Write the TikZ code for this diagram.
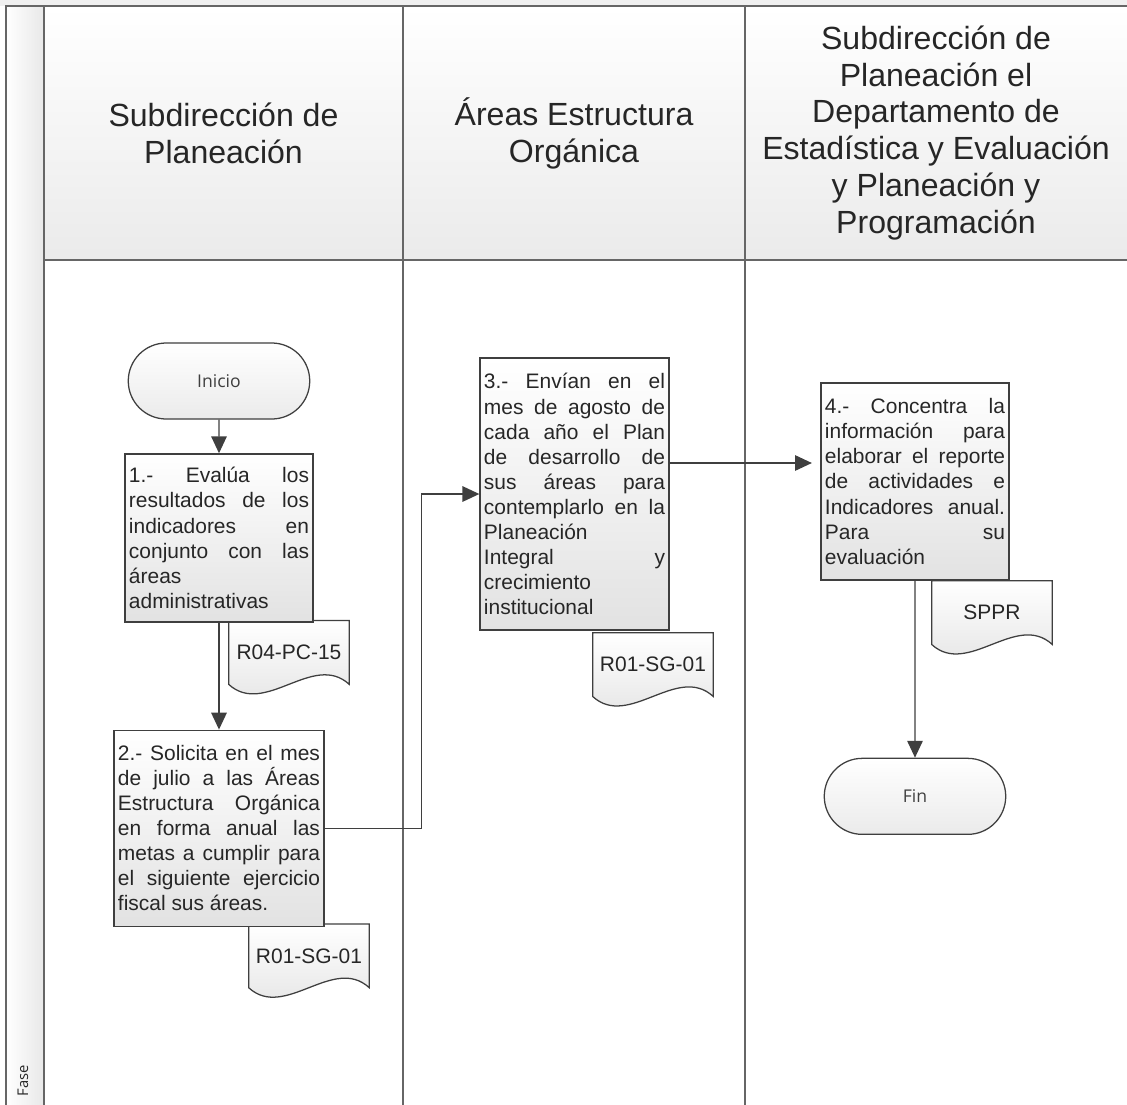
\documentclass[tikz,border=0pt]{standalone}
\usepackage{fontspec}
\setmainfont{Liberation Sans}
\newfontfamily\uifont{Open Sans}
\usepackage{tikz}
\usetikzlibrary{positioning,calc,shapes.misc,arrows.meta,backgrounds}
\definecolor{linecol}{HTML}{3F3F3F}
\definecolor{lanecol}{HTML}{666666}
\definecolor{txtcol}{HTML}{262626}
\definecolor{fillbot}{HTML}{E2E2E2}
\hyphenpenalty=10000
\exhyphenpenalty=10000
\tikzset{block/.style={draw=linecol,line width=0.9pt,top color=white,bottom color=fillbot,
           align=justify,inner xsep=0.1cm,inner ysep=0pt,text=txtcol,
           font=\fontsize{14.9pt}{17.8pt}\selectfont},
         term/.style={draw=linecol,line width=0.9pt,rounded rectangle,top color=white,
           bottom color=fillbot!70,minimum width=4.77cm,minimum height=1.9cm,text=linecol,
           font=\uifont\fontsize{12.5pt}{14pt}\selectfont},
         docu/.style={minimum width=3cm,minimum height=1.58cm,inner sep=0pt,text=txtcol,
           font=\fontsize{14.9pt}{17.8pt}\selectfont},
         head/.style={align=center,text=txtcol,font=\fontsize{22.8pt}{26.3pt}\selectfont},
         lane/.style={draw=lanecol,line width=1.4pt}
}
\tikzstyle{arrow} = [draw=linecol,line width=1pt,-{Triangle[length=12pt,width=11pt]}]

% document symbol: text node plus wavy outline behind it
\newcommand{\docshape}[3]{%
  \node[docu,anchor=north west] (#1) at (#2) {#3};
  \begin{pgfonlayer}{background}
  \draw[draw=linecol,line width=0.9pt,top color=white,bottom color=fillbot]
    (#1.north west) -- (#1.north east) -- (#1.south east)
    .. controls ($(#1.south east)+(-36,-33)$) and ($(#1.south west)+(36,33)$) .. (#1.south west) -- cycle;
  \end{pgfonlayer}}

\begin{document}
\begin{tikzpicture}[x=0.025cm,y=-0.025cm]
\useasboundingbox (0,0) rectangle (1127,1105);

% lanes
\fill[gray!12] (0,0) rectangle (1127,6);
\fill[left color=white,right color=gray!18] (6,6) rectangle (44,1105);
\fill[top color=white,bottom color=gray!16] (44,6) rectangle (1127,260);
\draw[lane] (6,1105) -- (6,6) -- (1127,6);
\draw[lane] (44,6) -- (44,1105);
\draw[lane] (44,260) -- (1127,260);
\draw[lane] (403,6) -- (403,1105);
\draw[lane] (745,6) -- (745,1105);

\node[head] (head1) at (223.5,133) {Subdirección de\\Planeación};
\node[head] (head2) at (574,133) {Áreas Estructura\\Orgánica};
\node[head] (head3) at (936,133) {Subdirección de\\Planeación el\\Departamento de\\Estadística y Evaluación\\y Planeación y\\Programación};
\node[rotate=90,text=txtcol,font=\uifont\fontsize{10.5pt}{12pt}\selectfont] (fase) at (23,1081) {Fase};

% steps
\node[term] (inicio) at (219,381) {Inicio};
\node[block,text width=4.5cm,minimum height=4.2cm,below=0.84cm of inicio] (box1) {1.- Evalúa los\linebreak resultados de los\linebreak indicadores en\linebreak conjunto con las\linebreak áreas\linebreak administrativas};
\node[block,text width=5.05cm,minimum height=4.9cm,below=2.675cm of box1] (box2) {2.- Solicita en el mes\linebreak de julio a las Áreas\linebreak Estructura Orgánica\linebreak en forma anual las\linebreak metas a cumplir para\linebreak el siguiente ejercicio\linebreak fiscal sus áreas.};
\node[block,text width=4.525cm,minimum height=6.8cm] (box3) at (574.5,494) {3.- Envían en el\linebreak mes de agosto de\linebreak cada año el Plan\linebreak de desarrollo de\linebreak sus áreas para\linebreak contemplarlo en la\linebreak Planeación\linebreak Integral y\linebreak crecimiento\linebreak institucional};
\node[block,text width=4.5cm,minimum height=4.925cm] (box4) at (915,481.5) {4.- Concentra la\linebreak información para\linebreak elaborar el reporte\linebreak de actividades e\linebreak Indicadores anual.\linebreak Para su\linebreak evaluación};
\node[term,below=4.425cm of box4] (fin) {Fin};

% documents
\docshape{doc1}{$(box1.south east)+(-85,-2)$}{R04-PC-15}
\docshape{doc2}{$(box2.south east)+(-76,-3)$}{R01-SG-01}
\docshape{doc3}{$(box3.south east)+(-77,2)$}{R01-SG-01}
\docshape{doc4}{$(box4.south east)+(-78,0)$}{SPPR}

% flow
\draw[arrow] (inicio) -- (box1);
\draw[arrow] (box1) -- (box2);
\draw[arrow] (box2.east) -| ($(box3.west)+(-58,0)$) -- (box3.west);
\coordinate (out3) at ($(box3.east)+(0,-31)$);
\draw[arrow] (out3) -- ([xshift=-6pt]out3 -| box4.west);
\draw[arrow] (box4) -- (fin);

\end{tikzpicture}
\end{document}
